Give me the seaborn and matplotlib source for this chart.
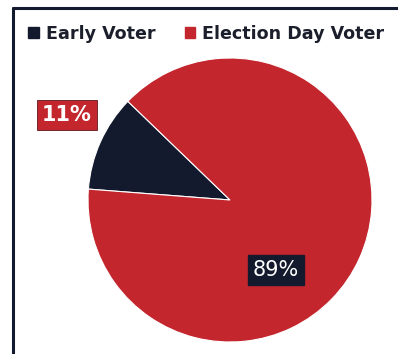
import matplotlib
matplotlib.use("Agg")
import matplotlib.pyplot as plt
import seaborn as sns
from matplotlib.lines import Line2D
from matplotlib.patches import Patch

# data
categories = ["Early Voter", "Election Day Voter"]
shares = [11, 89]
pct_labels = ["11%", "89%"]

navy = "#141a2e"
red = "#c4262e"
palette = [navy, red]

sns.set_theme(style="white")
plt.rcParams['font.family'] = ['DejaVu Sans']

fig = plt.figure(figsize=[3.98, 3.54], dpi=100)
fig.patch.set_facecolor("white")

# pie axes: centre ~ (230, 200) px, radius ~ 142 px
W, H = 398, 354
cx, cy, r = 230, 200, 142
ax = fig.add_axes([(cx - r) / W, (H - cy - r) / H, 2 * r / W, 2 * r / H])

wedges, _ = ax.pie(shares, colors=palette, startangle=136, counterclock=True,
                   wedgeprops=dict(edgecolor="white", linewidth=0.8))
ax.set_xlim(-1, 1)
ax.set_ylim(-1, 1)
ax.set_aspect("equal")

# percentage boxes
ax.text(-1.148, 0.60, pct_labels[0], fontsize=15, fontweight="bold", color="white",
        ha="center", va="center",
        bbox=dict(boxstyle="square,pad=0.25", facecolor=red, edgecolor="#5a1a1e", linewidth=0.6))
ax.text(0.324, -0.493, pct_labels[1], fontsize=15, color="white",
        ha="center", va="center",
        bbox=dict(boxstyle="square,pad=0.25", facecolor=navy, edgecolor=navy))

# frame lines (top and left)
top_y = 1 - 8 / H
left_x = 13 / W
fig.add_artist(Line2D([left_x, 1], [top_y, top_y], transform=fig.transFigure, color=navy, lw=2.2))
fig.add_artist(Line2D([left_x, left_x], [0, top_y], transform=fig.transFigure, color=navy, lw=2.2))

# legend
handles = [Patch(facecolor=c, edgecolor=c) for c in palette]
leg = fig.legend(handles, categories, loc="center left", bbox_to_anchor=(28 / W, 1 - 34 / H),
                 ncol=2, frameon=False, handlelength=0.6, handleheight=0.6, handletextpad=0.4,
                 columnspacing=1.7, borderaxespad=0, borderpad=0,
                 prop=dict(weight="bold", size=12.6))
for t in leg.get_texts():
    t.set_color("#1b1e2b")

fig.savefig("out.png", dpi=100, facecolor="white")
